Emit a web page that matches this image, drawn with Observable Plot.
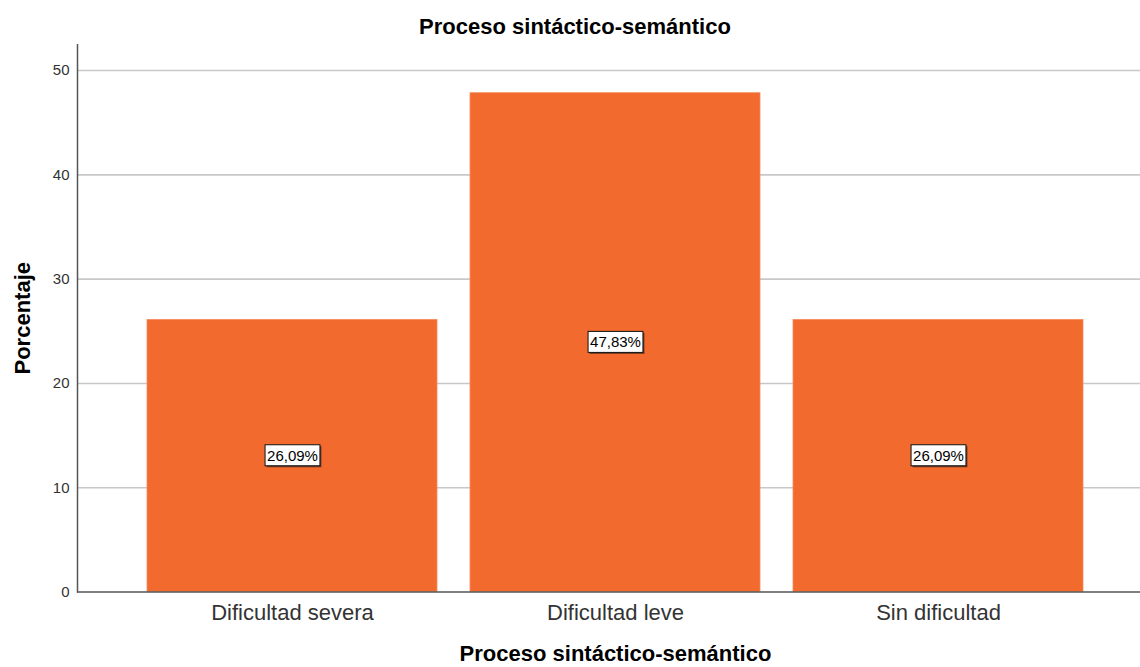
<!DOCTYPE html>
<html>
<head>
<meta charset="utf-8">
<script src="https://cdn.jsdelivr.net/npm/d3@7"></script>
<script src="https://cdn.jsdelivr.net/npm/@observablehq/plot@0.6"></script>
<style>
  html, body { margin: 0; padding: 0; background: #fff; }
  body { width: 1140px; height: 667px; overflow: hidden; font-family: "Liberation Sans", Arial, sans-serif; }
  #title { height: 44px; width: 1140px; box-sizing: border-box; padding-left: 10px; text-align: center;
           font-weight: bold; font-size: 22px; line-height: 54px; color: #000; white-space: nowrap; }
  #chart svg { display: block; }
</style>
</head>
<body>
<div id="title">Proceso sintáctico-semántico</div>
<div id="chart"></div>
<script>
// Distribution of the sample across difficulty levels (percent)
const categories = ["Dificultad severa", "Dificultad leve", "Sin dificultad"];
const percentages = [26.09, 47.83, 26.09];
const yTicks = [0, 10, 20, 30, 40, 50];
const xTitle = "Proceso sintáctico-semántico";
const yTitle = "Porcentaje";

const rows = categories.map((c, i) => ({category: c, pct: percentages[i]}));
const fmt = v => v.toFixed(2).replace(".", ",") + "%";

const barColor = "#f26a2d";

const chart = Plot.plot({
  width: 1140,
  height: 623,
  marginTop: 0,
  marginBottom: 75.5,
  marginLeft: 77,
  marginRight: 0,
  style: {fontFamily: "'Liberation Sans', Arial, sans-serif", background: "#fff"},
  x: {domain: categories, range: [77, 1153], paddingInner: 0.102, paddingOuter: 0.2166, label: null},
  y: {domain: [0, 52.5], label: null},
  marks: [
    Plot.gridY(yTicks.filter(t => t > 0), {stroke: "#c8c8c8", strokeOpacity: 1, strokeWidth: 1.6}),
    Plot.barY(rows, {x: "category", y: "pct", fill: barColor, stroke: "#f58c5e", strokeWidth: 0.8}),
    Plot.ruleY([0], {stroke: "#555", strokeWidth: 1.5}),
    Plot.frame({anchor: "left", stroke: "#555", strokeWidth: 1.5}),
    Plot.axisY({ticks: yTicks, tickSize: 0, tickPadding: 8, fontSize: 15, fill: "#333", label: null}),
    Plot.axisX({tickSize: 0, tickPadding: 12, fontSize: 22, fill: "#333", label: null}),
    Plot.text(rows, {x: "category", y: d => d.pct / 2, text: d => fmt(d.pct),
                     fontSize: 15, fill: "#000", className: "vlabel"}),
    Plot.text([xTitle], {frameAnchor: "bottom", dx: 6.5, dy: 61.5, fontSize: 22,
                         fontWeight: "bold", fill: "#000", textAnchor: "middle", lineAnchor: "middle"}),
    Plot.text([yTitle], {frameAnchor: "left", dx: -55, rotate: -90, fontSize: 22,
                         fontWeight: "bold", fill: "#000", textAnchor: "middle", lineAnchor: "middle"})
  ]
});

document.getElementById("chart").append(chart);

// Boxed value labels: white box with dark border and a small drop shadow
const ns = "http://www.w3.org/2000/svg";
chart.querySelectorAll(".vlabel text").forEach(t => {
  const b = t.getBBox();
  const pad = 2;
  const shadow = document.createElementNS(ns, "rect");
  shadow.setAttribute("x", b.x - pad + 1.5);
  shadow.setAttribute("y", b.y - pad + 1.5);
  shadow.setAttribute("width", b.width + 2 * pad);
  shadow.setAttribute("height", b.height + 2 * pad);
  shadow.setAttribute("fill", "#6b3a22");
  shadow.setAttribute("transform", t.getAttribute("transform") || "");
  const box = document.createElementNS(ns, "rect");
  box.setAttribute("x", b.x - pad);
  box.setAttribute("y", b.y - pad);
  box.setAttribute("width", b.width + 2 * pad);
  box.setAttribute("height", b.height + 2 * pad);
  box.setAttribute("fill", "#fff");
  box.setAttribute("stroke", "#111");
  box.setAttribute("stroke-width", 1);
  box.setAttribute("transform", t.getAttribute("transform") || "");
  t.parentNode.insertBefore(shadow, t);
  t.parentNode.insertBefore(box, t);
});
</script>
</body>
</html>
